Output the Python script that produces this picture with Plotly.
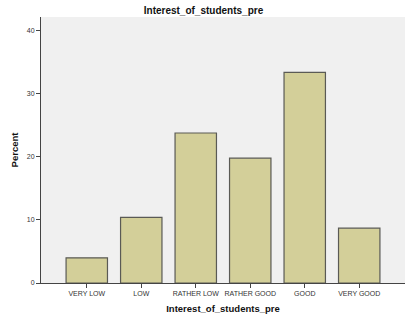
import plotly.graph_objects as go

categories = ["VERY LOW", "LOW", "RATHER LOW", "RATHER GOOD", "GOOD", "VERY GOOD"]
percent = [4.0, 10.4, 23.8, 19.8, 33.4, 8.7]
y_ticks = [0, 10, 20, 30, 40]

fig = go.Figure(go.Bar(
    x=categories, y=percent,
    marker=dict(color="#d3cf99", line=dict(color="#5a5a55", width=1.2)),
    width=0.76,
))

fig.update_layout(
    width=407, height=317,
    margin=dict(l=41, r=2, t=17, b=34, autoexpand=False),
    paper_bgcolor="white", plot_bgcolor="#f0f0f0",
    font=dict(family="Liberation Sans, Arial, sans-serif", color="#333"),
    title=dict(text="<b>Interest_of_students_pre</b>", x=0.5, xanchor="center",
               y=1 - 10/317, yanchor="middle", font=dict(size=10, color="#111")),
    showlegend=False,
    bargap=0.24,
)
fig.update_xaxes(
    range=[-0.84, 5.84], showline=True, linecolor="#444", linewidth=1,
    ticks="outside", ticklen=4, tickcolor="#444", tickfont=dict(size=7, color="#333"),
    title=dict(text="<b>Interest_of_students_pre</b>", font=dict(size=9.5, color="#111"), standoff=8),
    showgrid=False, zeroline=False,
)
fig.update_yaxes(
    range=[0, 42.2], tickvals=y_ticks, showline=True, linecolor="#444", linewidth=1,
    ticks="outside", ticklen=4, tickcolor="#444", tickfont=dict(size=7, color="#333"),
    title=dict(text="<b>Percent</b>", font=dict(size=9.5, color="#111"), standoff=6),
    showgrid=False, zeroline=False,
)

fig.write_html(
    "out.html",
    config={"displayModeBar": False},
    post_script="document.body.style.margin='0';document.body.style.overflow='hidden';",
)
